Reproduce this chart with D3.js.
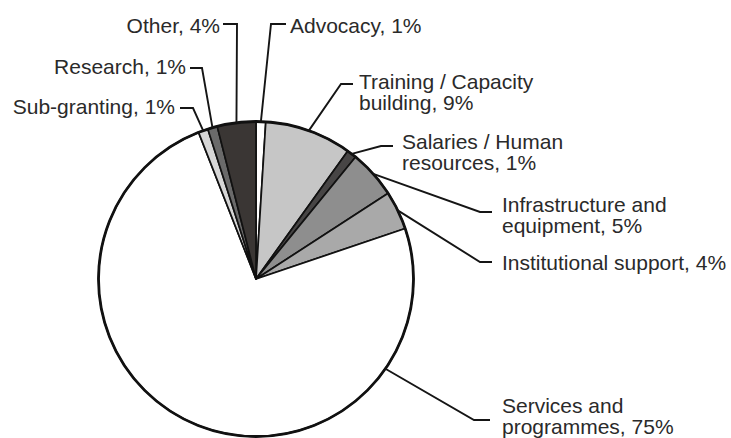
<!DOCTYPE html>
<html>
<head>
<meta charset="utf-8">
<script src="https://cdn.jsdelivr.net/npm/d3@7"></script>
<style>
  html, body { margin: 0; padding: 0; background: #fff; }
  svg { display: block; }
  text { font-family: "Liberation Sans", Arial, Helvetica, sans-serif; fill: #2a2a2a; }
</style>
</head>
<body>
<svg id="chart" width="731" height="438"></svg>
<script>
// Spending categories, clockwise from 12 o'clock
const categories = [
  "Advocacy",
  "Training / Capacity building",
  "Salaries / Human resources",
  "Infrastructure and equipment",
  "Institutional support",
  "Services and programmes",
  "Sub-granting",
  "Research",
  "Other"
];
// Share of spending, percent
const shares = [1, 9, 1, 5, 4, 75, 1, 1, 4];

// Grey-scale fills, one per category
const fills = ["#ffffff", "#c6c6c6", "#474545", "#8e8e8e", "#a9a9a9", "#ffffff", "#d6d6d6", "#6a6a6a", "#3a3634"];

// Label placement: where each line of text sits, how the label breaks,
// and the elbow of its leader line. "t" is where along the slice's arc the leader meets the pie.
const labelLayout = {
  "Advocacy":                     { anchor: "start", x: 290, y: [33], brk: null, path: [[286, 24], [271, 24]], t: 0.5 },
  "Training / Capacity building": { anchor: "start", x: 359, y: [89, 110], brk: "Training / Capacity", path: [[353, 84], [341, 84]], t: 0.5 },
  "Salaries / Human resources":   { anchor: "start", x: 402, y: [149, 170], brk: "Salaries / Human", path: [[393, 146], [381, 146]], t: 0.5 },
  "Infrastructure and equipment": { anchor: "start", x: 502, y: [212, 233], brk: "Infrastructure and", path: [[492, 212], [480, 212]], t: 0.5 },
  "Institutional support":        { anchor: "start", x: 502, y: [270], brk: null, path: [[492, 262], [480, 262]], t: 0.5 },
  "Services and programmes":      { anchor: "start", x: 502, y: [413, 434], brk: "Services and", path: [[490, 420], [474, 420]], t: 0.2 },
  "Sub-granting":                 { anchor: "end", x: 175, y: [114], brk: null, path: [[180, 108], [193, 108]], t: 0.5 },
  "Research":                     { anchor: "end", x: 186, y: [74], brk: null, path: [[190, 68], [202, 68]], t: 0.5 },
  "Other":                        { anchor: "end", x: 220, y: [33], brk: null, path: [[223, 24], [237, 24]], t: 0.5 }
};

const cx = 256, cy = 279, radius = 157.5;

const svg = d3.select("#chart");
const g = svg.append("g").attr("transform", `translate(${cx},${cy})`);

const data = categories.map((c, i) => ({ category: c, share: shares[i], fill: fills[i] }));

const pie = d3.pie().value(d => d.share).sort(null);
const arc = d3.arc().innerRadius(0).outerRadius(radius);
const arcs = pie(data);

// Slices
g.selectAll("path.slice")
  .data(arcs)
  .join("path")
  .attr("class", "slice")
  .attr("d", arc)
  .attr("fill", d => d.data.fill)
  .attr("stroke", "#111")
  .attr("stroke-width", 1.7)
  .attr("stroke-linejoin", "round");

// Heavier outline around the whole pie
g.append("circle")
  .attr("r", radius)
  .attr("fill", "none")
  .attr("stroke", "#111")
  .attr("stroke-width", 2.8);

// Leader lines from labels to the pie rim
const line = d3.line();
arcs.forEach(a => {
  const lay = labelLayout[a.data.category];
  const ang = a.startAngle + (a.endAngle - a.startAngle) * lay.t;
  const rim = [cx + radius * Math.sin(ang), cy - radius * Math.cos(ang)];
  svg.append("path")
    .attr("d", line([...lay.path, rim]))
    .attr("fill", "none")
    .attr("stroke", "#151515")
    .attr("stroke-width", 1.9)
    .attr("stroke-linejoin", "miter");
});

// Labels: "<category>, <share>%"
arcs.forEach(a => {
  const lay = labelLayout[a.data.category];
  const full = `${a.data.category}, ${a.data.share}%`;
  const lines = lay.brk ? [lay.brk, full.slice(lay.brk.length).trim()] : [full];
  const t = svg.append("text")
    .attr("text-anchor", lay.anchor)
    .style("font-size", "21px");
  lines.forEach((s, i) => {
    t.append("tspan").attr("x", lay.x).attr("y", lay.y[i]).text(s);
  });
});
</script>
</body>
</html>
